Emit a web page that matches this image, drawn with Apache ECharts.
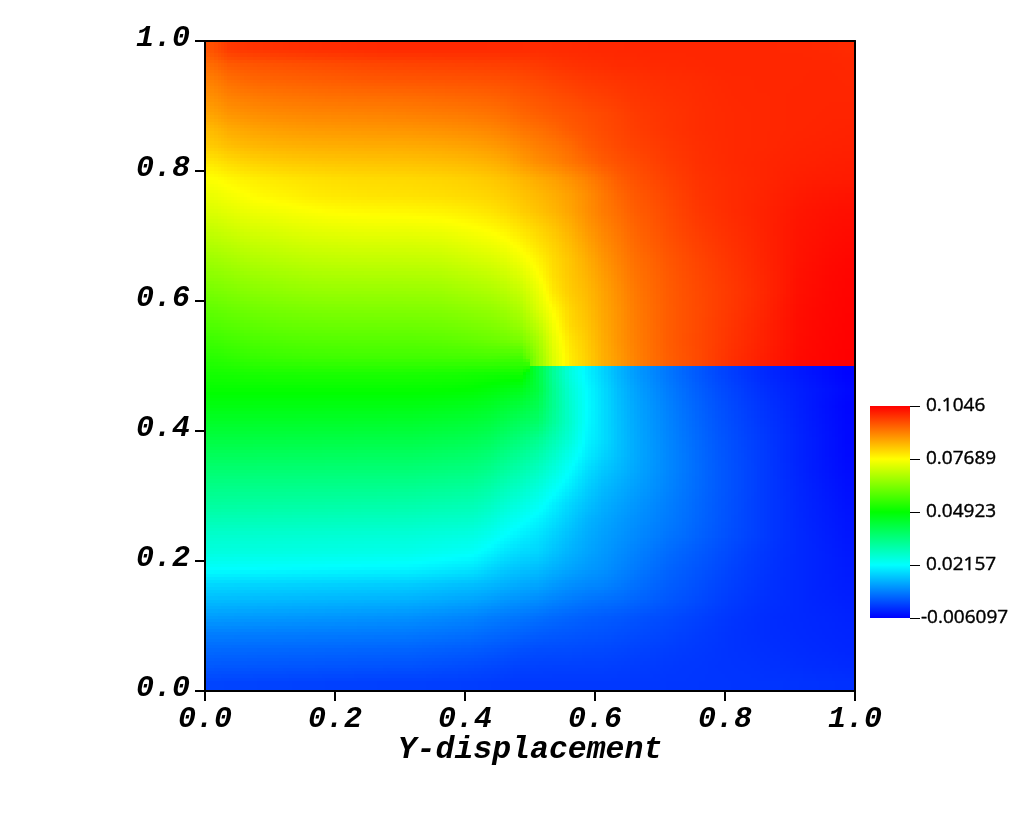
<!DOCTYPE html>
<html>
<head>
<meta charset="utf-8">
<style>html,body{margin:0;padding:0;background:#fff}#c{width:1024px;height:813px}</style>
<script src="https://cdn.jsdelivr.net/npm/echarts@6/dist/echarts.min.js"></script>
</head>
<body>
<div id="c"></div>
<script>
const xCenters = [0.0125,0.0375,0.0625,0.0875,0.1125,0.1375,0.1625,0.1875,0.2125,0.2375,0.2625,0.2875,0.3125,0.3375,0.3625,0.3875,0.4125,0.4375,0.4625,0.4875,0.5125,0.5375,0.5625,0.5875,0.6125,0.6375,0.6625,0.6875,0.7125,0.7375,0.7625,0.7875,0.8125,0.8375,0.8625,0.8875,0.9125,0.9375,0.9625,0.9875];
const yCentersTopDown = [0.9875,0.9625,0.9375,0.9125,0.8875,0.8625,0.8375,0.8125,0.7875,0.7625,0.7375,0.7125,0.6875,0.6625,0.6375,0.6125,0.5875,0.5625,0.5375,0.5125,0.4875,0.4625,0.4375,0.4125,0.3875,0.3625,0.3375,0.3125,0.2875,0.2625,0.2375,0.2125,0.1875,0.1625,0.1375,0.1125,0.0875,0.0625,0.0375,0.0125];
const cellHalf = 0.0125;
const valueUnit = 0.0001;
const displacementRows = [
[960,985,990,992,994,996,998,999,1000,1001,1002,1003,1003,1003,1003,1003,1003,1002,1002,1001,1000,1001,1002,1003,1004,1004,1005,1005,1005,1005,1005,1005,1005,1005,1005,1004,1004,1003,1002,1000],
[930,948,952,955,957,959,961,963,965,967,969,971,972,973,974,975,976,977,978,980,983,988,992,995,997,1000,1000,1002,1002,1003,1004,1005,1005,1005,1005,1005,1005,1005,1005,1004],
[908,925,932,936,938,940,942,944,946,948,950,951,952,953,954,955,956,958,960,964,968,974,979,984,987,990,993,995,997,998,1000,1002,1004,1004,1005,1005,1005,1006,1006,1005],
[890,905,910,914,917,919,921,923,924,925,926,927,928,930,932,934,936,939,943,950,955,961,967,973,978,983,988,991,994,996,999,1001,1003,1004,1004,1005,1006,1006,1006,1006],
[870,885,890,894,897,899,901,902,903,904,905,906,908,910,912,914,917,921,927,936,943,950,956,962,968,975,983,987,991,994,998,1000,1002,1003,1004,1005,1006,1006,1007,1007],
[845,860,866,871,874,877,879,880,881,882,883,884,885,887,889,892,895,900,907,918,925,935,948,956,965,972,980,985,990,994,998,1000,1002,1003,1004,1005,1006,1007,1008,1009],
[826,838,844,848,851,853,855,856,857,858,859,859,860,862,864,867,871,877,885,897,908,918,930,947,958,967,975,980,986,991,996,999,1002,1003,1004,1006,1008,1009,1010,1011],
[796,808,815,820,824,827,829,831,832,833,834,835,836,838,840,843,847,853,862,878,892,903,918,932,948,958,966,974,982,988,995,998,1002,1004,1006,1008,1010,1011,1013,1014],
[768,778,785,790,794,798,801,804,806,808,809,810,811,813,815,818,822,828,836,848,860,872,888,905,926,945,958,967,976,984,992,996,1000,1003,1006,1010,1013,1015,1016,1017],
[750,760,768,776,780,784,790,793,795,797,799,800,801,803,805,808,811,816,823,834,845,858,873,892,915,935,950,960,970,980,990,995,1000,1004,1008,1013,1018,1021,1023,1025],
[732,741,749,754,758,763,767,771,773,775,776,777,778,780,782,786,791,798,808,822,835,850,868,890,912,928,945,955,966,977,987,993,1000,1005,1010,1016,1022,1025,1028,1030],
[710,719,727,731,735,740,744,747,749,751,752,752,753,755,757,762,768,775,785,800,815,833,855,880,902,920,938,950,962,973,983,990,997,1003,1010,1017,1024,1027,1031,1033],
[688,696,704,708,712,717,721,723,725,727,727,728,728,730,732,738,745,752,762,779,800,820,843,868,893,912,932,945,957,968,978,986,994,1001,1009,1017,1025,1029,1033,1036],
[665,673,681,686,690,694,698,700,702,703,704,704,705,706,708,714,721,728,738,757,781,810,833,857,883,905,925,938,952,963,973,982,991,999,1008,1017,1026,1031,1036,1039],
[644,651,658,663,667,671,675,677,678,679,680,680,681,682,684,690,696,703,714,733,765,805,830,850,875,898,920,934,948,960,970,979,988,997,1006,1017,1028,1033,1038,1041],
[622,629,636,641,645,649,652,654,655,655,656,656,657,658,660,666,672,679,690,708,745,795,825,843,868,892,915,931,946,958,968,977,986,995,1005,1017,1029,1034,1039,1042],
[600,607,613,618,622,625,628,630,631,632,633,633,634,635,637,642,648,654,665,684,730,775,815,838,865,888,912,929,945,957,967,977,987,997,1007,1020,1031,1036,1040,1043],
[579,586,592,596,600,603,605,607,608,609,609,610,610,612,614,618,624,630,640,658,700,760,810,832,862,886,910,928,945,957,968,979,990,1000,1010,1021,1032,1037,1041,1044],
[557,564,570,574,577,580,582,583,584,585,585,586,586,588,590,594,599,605,612,622,670,745,797,825,858,885,908,927,945,958,969,980,992,1002,1012,1023,1033,1038,1042,1045],
[536,542,548,552,555,557,559,560,561,562,562,563,563,563,564,565,566,568,566,565,650,735,790,820,855,880,905,925,943,956,968,982,995,1005,1015,1025,1035,1039,1043,1046],
[514,516,518,519,520,520,521,521,521,521,521,521,520,519,518,517,514,512,510,510,425,325,250,205,170,135,108,88,68,50,33,18,5,-7,-18,-26,-34,-42,-50,-58],
[497,497,497,497,497,497,497,497,497,497,497,497,497,496,495,493,490,482,472,462,425,335,262,214,178,143,116,95,75,57,40,25,12,0,-11,-20,-28,-36,-44,-52],
[475,475,475,474,474,474,474,473,473,473,473,472,472,470,467,464,460,452,438,425,405,335,268,216,180,146,120,100,80,62,45,30,17,5,-6,-16,-26,-36,-46,-55],
[449,449,449,448,448,448,447,447,447,446,446,445,445,442,439,436,432,424,408,392,380,325,270,214,180,148,122,102,83,65,48,33,20,8,-3,-13,-24,-34,-44,-53],
[423,423,423,422,422,421,421,420,420,419,419,418,418,415,412,409,405,396,378,360,340,300,258,207,180,149,124,104,85,68,51,36,23,11,0,-11,-22,-32,-42,-52],
[396,396,396,395,395,394,394,393,393,392,392,391,391,388,385,382,378,368,348,330,310,275,235,197,170,146,124,105,87,70,53,38,25,13,2,-11,-22,-32,-42,-51],
[369,369,369,368,368,367,367,366,366,365,365,364,364,361,358,355,352,340,320,302,282,250,214,180,155,138,120,103,86,70,54,39,26,14,2,-10,-21,-31,-40,-48],
[345,344,344,343,343,342,341,341,340,339,339,338,337,334,331,328,325,312,292,275,255,225,195,165,142,127,112,98,83,68,53,39,26,14,2,-9,-19,-28,-37,-45],
[322,321,320,319,318,317,316,315,314,313,312,311,310,307,304,301,298,285,265,248,230,200,172,150,130,116,103,90,77,64,50,37,25,13,2,-8,-18,-26,-34,-42],
[295,294,293,292,291,290,289,288,287,286,285,284,283,280,277,275,272,258,238,222,205,182,158,135,120,107,95,84,73,61,48,36,24,13,2,-8,-17,-25,-32,-39],
[269,268,267,266,265,264,263,262,261,260,259,258,257,254,251,248,245,232,214,198,185,165,144,126,112,100,89,78,66,56,44,33,22,12,2,-8,-16,-23,-30,-37],
[250,249,248,247,246,245,244,243,242,241,240,239,238,234,230,226,222,205,187,175,170,150,132,118,105,92,80,68,56,46,36,26,16,6,-2,-10,-16,-22,-28,-34],
[218,217,216,215,214,213,212,211,210,209,208,207,206,202,197,192,188,172,158,150,145,130,117,106,97,84,72,60,48,39,30,21,11,3,-4,-11,-17,-22,-27,-32],
[172,171,170,169,168,167,166,165,164,163,162,161,160,156,152,148,145,138,130,122,118,105,94,87,82,72,61,51,41,33,24,15,7,0,-7,-12,-17,-22,-26,-30],
[141,140,139,138,137,136,135,134,133,132,131,130,129,125,122,118,115,108,100,95,90,80,72,65,60,55,48,41,33,26,18,10,2,-4,-9,-13,-17,-21,-24,-27],
[108,107,106,105,104,103,102,101,100,99,98,97,96,92,89,85,82,75,70,66,60,53,47,42,38,34,29,24,20,14,8,2,-4,-8,-12,-15,-17,-19,-21,-24],
[76,76,75,75,74,74,73,73,72,72,71,71,70,67,65,62,60,54,50,45,40,36,33,30,28,24,20,17,13,8,3,-1,-6,-9,-12,-14,-16,-18,-20,-22],
[53,52,52,51,51,50,50,49,49,48,48,47,47,44,42,40,38,34,30,25,22,21,20,18,17,14,11,9,6,3,0,-3,-6,-8,-10,-12,-14,-16,-18,-20],
[34,33,33,32,32,31,31,30,30,29,29,28,28,26,24,22,20,17,14,11,10,9,9,8,8,6,4,3,1,-1,-2,-4,-5,-6,-8,-9,-11,-13,-14,-16],
[13,12,12,11,11,10,10,9,9,8,8,7,7,7,6,6,5,4,2,0,0,0,0,0,0,0,-1,-1,-2,-2,-3,-3,-4,-4,-5,-5,-6,-7,-8,-9]
];
const crackTipX = 0.5;
const crackY = 0.5;
const colorStops = ['#0000ff','#00ffff','#00ff00','#ffff00','#ff0000'];
const colorbarMin = -0.006097;
const colorbarMax = 0.1046;
const colorbarTicks = [-0.006097,0.02157,0.04923,0.07689,0.1046];
const colorbarLabels = ['-0.006097','0.02157','0.04923','0.07689','0.1046'];
const xAxisTitle = 'Y-displacement';

const cells = [];
displacementRows.forEach(function (row, j) {
  row.forEach(function (v, i) {
    cells.push([xCenters[i], yCentersTopDown[j], v * valueUnit]);
  });
});

/* Mesh-style shading of the read values: blends neighbouring cells, never across the crack. */
const nCols = xCenters.length, nRows = yCentersTopDown.length;
function clamp(v, lo, hi) { return v < lo ? lo : v > hi ? hi : v; }
function shadedValue(x, y) {
  const fx = clamp((x - xCenters[0]) / (2 * cellHalf), 0, nCols - 1);
  let fy = (yCentersTopDown[0] - y) / (2 * cellHalf);
  if (x >= crackTipX) {
    fy = y >= crackY ? clamp(fy, 0, nRows / 2 - 1) : clamp(fy, nRows / 2, nRows - 1);
  } else {
    fy = clamp(fy, 0, nRows - 1);
  }
  const i0 = Math.floor(fx), j0 = Math.floor(fy);
  const i1 = Math.min(i0 + 1, nCols - 1), j1 = Math.min(j0 + 1, nRows - 1);
  const tx = fx - i0, ty = fy - j0;
  const r0 = displacementRows[j0], r1 = displacementRows[j1];
  return ((r0[i0] * (1 - tx) + r0[i1] * tx) * (1 - ty) + (r1[i0] * (1 - tx) + r1[i1] * tx) * ty) * valueUnit;
}
function valueColor(v) {
  return echarts.color.lerp(clamp((v - colorbarMin) / (colorbarMax - colorbarMin), 0, 1), colorStops);
}

const monoFont = '"Liberation Mono", monospace';
const tickStyle = {
  show: true, fontFamily: monoFont, fontWeight: 'bold', fontStyle: 'italic',
  fontSize: 30, color: '#000',
  formatter: function (v) { return v.toFixed(1); }
};
const colorbarLabelStyle = {
  show: true, padding: [0, 0, 3, 0], showMinLabel: true, showMaxLabel: true,
  fontFamily: '"Open Sans", sans-serif', fontSize: 19, color: '#000',
  textBorderColor: '#000', textBorderWidth: 0.4,
  formatter: function (v) {
    const k = colorbarTicks.findIndex(function (t) { return Math.abs(t - v) < 1e-6; });
    return k >= 0 ? colorbarLabels[k] : '';
  }
};
const SUB = 5;

const chart = echarts.init(document.getElementById('c'), null, { renderer: 'canvas' });
chart.setOption({
  animation: false,
  backgroundColor: '#fff',
  grid: [
    { left: 205, top: 41, width: 650, height: 650 },
    { left: 870, top: 406, width: 40, height: 212 }
  ],
  xAxis: [
    { type: 'value', gridIndex: 0, min: 0, max: 1, interval: 0.2, z: 5,
      name: xAxisTitle, nameLocation: 'middle', nameGap: 43, nameMoveOverlap: false,
      nameTextStyle: { fontFamily: monoFont, fontWeight: 'bold', fontStyle: 'italic', fontSize: 31.5, color: '#000' },
      splitLine: { show: false },
      axisLine: { show: true, onZero: false, lineStyle: { color: '#000', width: 2 } },
      axisTick: { show: true, length: 10, lineStyle: { color: '#000', width: 2 } },
      axisLabel: Object.assign({}, tickStyle, { margin: 13 }) },
    { type: 'value', gridIndex: 0, min: 0, max: 1, position: 'top', z: 5,
      splitLine: { show: false }, axisTick: { show: false }, axisLabel: { show: false },
      axisLine: { show: true, onZero: false, lineStyle: { color: '#000', width: 2 } } },
    { type: 'value', gridIndex: 1, min: 0, max: 1, show: false }
  ],
  yAxis: [
    { type: 'value', gridIndex: 0, min: 0, max: 1, interval: 0.2, z: 5,
      splitLine: { show: false },
      axisLine: { show: true, onZero: false, lineStyle: { color: '#000', width: 2 } },
      axisTick: { show: true, length: 10, lineStyle: { color: '#000', width: 2 } },
      axisLabel: Object.assign({}, tickStyle, { margin: 15, verticalAlign: 'bottom', lineHeight: 6 }) },
    { type: 'value', gridIndex: 0, min: 0, max: 1, position: 'right', z: 5,
      splitLine: { show: false }, axisTick: { show: false }, axisLabel: { show: false },
      axisLine: { show: true, onZero: false, lineStyle: { color: '#000', width: 2 } } },
    { type: 'value', gridIndex: 1, min: colorbarMin, max: colorbarMax, position: 'right', z: 5,
      splitLine: { show: false }, axisLine: { show: false }, axisTick: { show: false },
      axisLabel: Object.assign({}, colorbarLabelStyle, { customValues: colorbarTicks.slice(1), margin: 16 }) },
    { type: 'value', gridIndex: 1, min: colorbarMin, max: colorbarMax, position: 'right', z: 5,
      splitLine: { show: false }, axisLine: { show: false }, axisTick: { show: false },
      axisLabel: Object.assign({}, colorbarLabelStyle, { customValues: colorbarTicks.slice(0, 1), margin: 11 }) }
  ],
  series: [{
    type: 'custom', coordinateSystem: 'cartesian2d', xAxisIndex: 0, yAxisIndex: 0,
    silent: true, clip: true, z: 2,
    encode: { x: 0, y: 1 },
    data: cells,
    renderItem: function (params, api) {
      const x = api.value(0), y = api.value(1);
      const a = api.coord([x - cellHalf, y + cellHalf]);
      const b = api.coord([x + cellHalf, y - cellHalf]);
      const children = [];
      for (let m = 0; m < SUB; m++) {
        const py0 = Math.floor(a[1] + (b[1] - a[1]) * m / SUB);
        const py1 = Math.ceil(a[1] + (b[1] - a[1]) * (m + 1) / SUB);
        const sy = y + cellHalf - 2 * cellHalf * (m + 0.5) / SUB;
        for (let n = 0; n < SUB; n++) {
          const px0 = Math.floor(a[0] + (b[0] - a[0]) * n / SUB);
          const px1 = Math.ceil(a[0] + (b[0] - a[0]) * (n + 1) / SUB);
          const sx = x - cellHalf + 2 * cellHalf * (n + 0.5) / SUB;
          children.push({ type: 'rect',
            shape: { x: px0, y: py0, width: px1 - px0, height: py1 - py0 },
            style: { fill: valueColor(shadedValue(sx, sy)) } });
        }
      }
      return { type: 'group', children: children };
    }
  }, {
    type: 'custom', coordinateSystem: 'cartesian2d', xAxisIndex: 2, yAxisIndex: 2,
    silent: true, clip: false, z: 2,
    data: [[0, colorbarMax]],
    renderItem: function (params, api) {
      const tl = api.coord([0, colorbarMax]);
      const br = api.coord([1, colorbarMin]);
      const children = [{ type: 'rect',
        shape: { x: tl[0], y: tl[1], width: br[0] - tl[0], height: br[1] - tl[1] },
        style: { fill: { type: 'linear', x: 0, y: 1, x2: 0, y2: 0,
          colorStops: colorStops.map(function (c, i) { return { offset: i / (colorStops.length - 1), color: c }; }) } } }];
      colorbarTicks.forEach(function (t) {
        const p = api.coord([1, t]);
        const ty = Math.round(p[1]) + 0.5;
        children.push({ type: 'line',
          shape: { x1: p[0], y1: ty, x2: p[0] + 10, y2: ty },
          style: { stroke: '#000', lineWidth: 1 } });
      });
      return { type: 'group', children: children };
    }
  }]
});
</script>
</body>
</html>
